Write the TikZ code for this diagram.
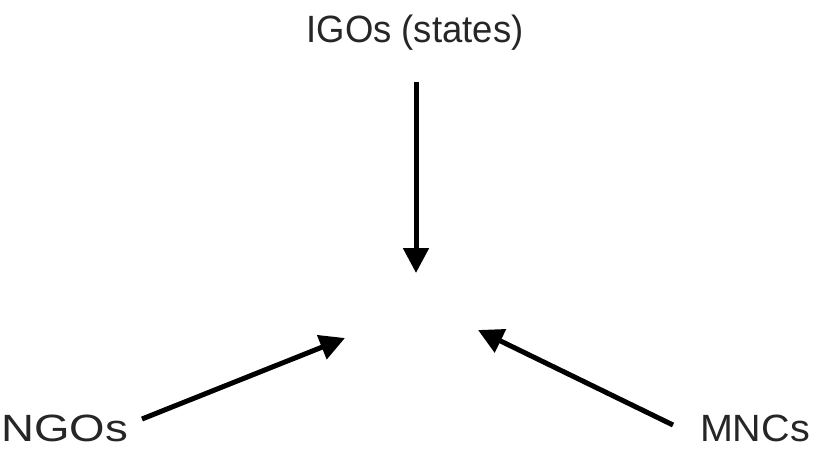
\documentclass[tikz,border=0pt]{standalone}
\usepackage{fontspec}
\setmainfont{Liberation Sans}
\usetikzlibrary{arrows.meta}
\tikzset{
  lbl/.style={inner sep=0pt, anchor=base, text=black!85, font=\fontsize{38}{42}\selectfont},
  arr/.style={line width=5pt, -{Triangle[length=25pt,width=25pt]}, black}
}
\begin{document}
\begin{tikzpicture}[x=1pt,y=-1pt]
\useasboundingbox (0,0) rectangle (819,448);
\node[lbl, xscale=0.96] (igo) at (415,42) {IGOs (states)};
\node[lbl, anchor=base west, xscale=1.2] (ngo) at (1,441) {NGOs};
\node[lbl, anchor=base east, xscale=1.04] (mnc) at (810,441) {MNCs};
\coordinate (igoS) at (416,82);
\coordinate (igoT) at (416,273);
\coordinate (ngoS) at (142,419);
\coordinate (ngoT) at (345,338);
\coordinate (mncS) at (673,425);
\coordinate (mncT) at (478,330);
\draw[arr] (igoS) -- (igoT);
\draw[arr] (ngoS) -- (ngoT);
\draw[arr] (mncS) -- (mncT);
\end{tikzpicture}
\end{document}
